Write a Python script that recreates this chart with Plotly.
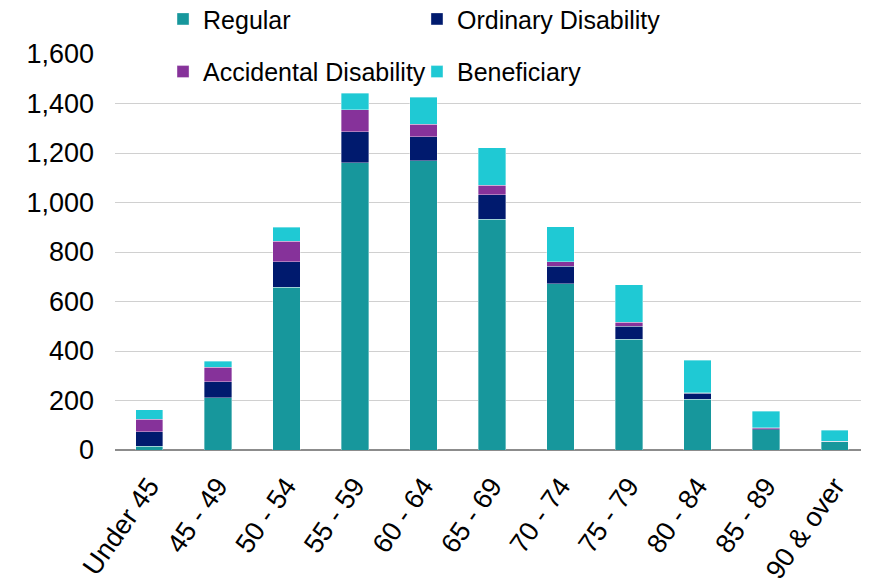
import plotly.graph_objects as go

categories = ["Under 45", "45 - 49", "50 - 54", "55 - 59", "60 - 64", "65 - 69",
              "70 - 74", "75 - 79", "80 - 84", "85 - 89", "90 & over"]
regular = [16, 211, 657, 1161, 1168, 933, 671, 448, 206, 81, 34]
ordinary = [58, 64, 104, 125, 98, 99, 72, 53, 24, 5, 1]
accidental = [50, 60, 83, 88, 51, 37, 17, 15, 2, 3, 0]
beneficiary = [38, 23, 56, 68, 108, 152, 142, 151, 130, 68, 45]

series = [
    ("Regular", regular, "#17979C", "legend"),
    ("Ordinary Disability", ordinary, "#001A6E", "legend2"),
    ("Accidental Disability", accidental, "#86329A", "legend3"),
    ("Beneficiary", beneficiary, "#1FC9D4", "legend4"),
]

fig = go.Figure()
for name, vals, color, lg in series:
    fig.add_trace(go.Bar(
        x=categories, y=vals, name=name, legend=lg,
        marker=dict(color=color, line=dict(color="rgba(255,255,255,0.45)", width=0.8)),
    ))

font_family = "Liberation Sans, Arial, sans-serif"
FS = 27
LFS = 25
col_x = [0.0637, 0.4005]
row_y = [1.088, 0.955]


def leg(x, y):
    return dict(orientation="h", x=x, y=y, xanchor="left", yanchor="middle",
                bgcolor="rgba(0,0,0,0)", font=dict(size=LFS, family=font_family),
                itemclick=False, itemdoubleclick=False)


fig.update_layout(
    barmode="stack",
    bargap=0.6,
    width=861, height=571,
    margin=dict(l=107, r=0, t=46, b=129, autoexpand=False),
    paper_bgcolor="white", plot_bgcolor="white",
    font=dict(family=font_family, size=FS, color="#000000"),
    legend=leg(col_x[0], row_y[0]),
    legend2=leg(col_x[1], row_y[0]),
    legend3=leg(col_x[0], row_y[1]),
    legend4=leg(col_x[1], row_y[1]),
    showlegend=True,
)
fig.update_yaxes(range=[0, 1600], dtick=200, tickformat=",d", showgrid=True,
                 gridcolor="#D0D0D0", gridwidth=1, zeroline=True, zerolinecolor="#8C8C8C",
                 zerolinewidth=2, ticks="", ticklen=0, tickfont=dict(size=FS),
                 ticklabelstandoff=20, showline=False, automargin=False)
fig.update_xaxes(tickangle=-55, tickfont=dict(size=FS), showline=False, ticks="",
                 ticklabelstandoff=14, automargin=False)

fig.write_html("out.html")
